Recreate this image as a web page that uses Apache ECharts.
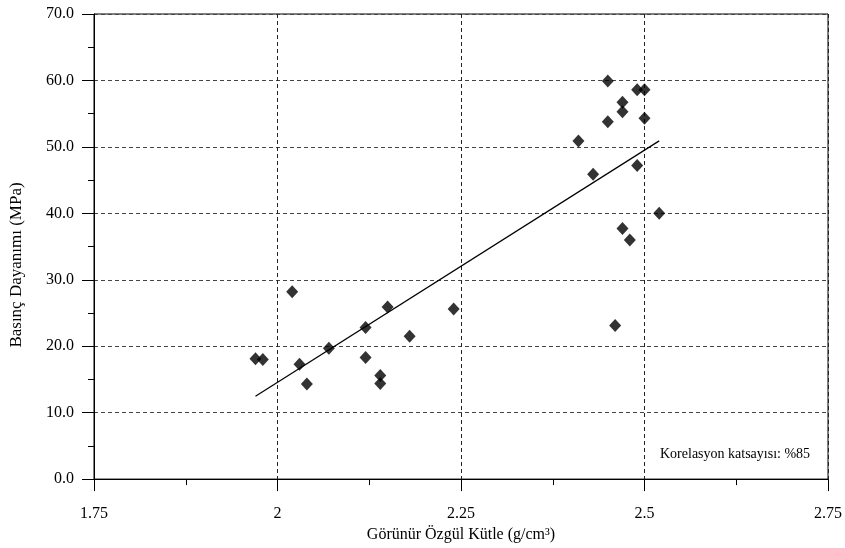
<!DOCTYPE html>
<html>
<head>
<meta charset="utf-8">
<script src="https://cdn.jsdelivr.net/npm/echarts@6/dist/echarts.min.js"></script>
<style>
  html, body { margin: 0; padding: 0; background: #fff; }
  #chart { width: 845px; height: 548px; }
</style>
</head>
<body>
<div id="chart"></div>
<script>
// Specific gravity (g/cm³) of each sample
const density = [
  1.97, 1.98, 2.02, 2.03, 2.04, 2.07, 2.12, 2.12, 2.14, 2.14, 2.15, 2.18, 2.24,
  2.41, 2.43, 2.45, 2.45, 2.46, 2.47, 2.47, 2.47, 2.48, 2.49, 2.49, 2.50, 2.50, 2.52
];
// Compressive strength (MPa) of each sample
const strength = [
  18.1, 18.0, 28.2, 17.3, 14.3, 19.7, 22.8, 18.3, 15.6, 14.4, 25.9, 21.5, 25.6,
  50.9, 45.9, 59.9, 53.8, 23.1, 56.7, 55.3, 37.7, 36.0, 58.6, 47.2, 58.6, 54.3, 40.0
];
const xTicks = [1.75, 2, 2.25, 2.5, 2.75];
const yTicks = [0, 10, 20, 30, 40, 50, 60, 70];
const xTitle = 'Görünür Özgül Kütle (g/cm³)';
const yTitle = 'Basınç Dayanımı (MPa)';
const noteText = 'Korelasyon katsayısı: %85';

// Least-squares trend line over the sample range
const n = density.length;
const mx = density.reduce((a, b) => a + b, 0) / n;
const my = strength.reduce((a, b) => a + b, 0) / n;
let sxy = 0, sxx = 0;
for (let i = 0; i < n; i++) {
  sxy += (density[i] - mx) * (strength[i] - my);
  sxx += (density[i] - mx) * (density[i] - mx);
}
const slope = sxy / sxx;
const intercept = my - slope * mx;
const xMin = Math.min(...density), xMax = Math.max(...density);
const trend = [[xMin, intercept + slope * xMin], [xMax, intercept + slope * xMax]];

const points = density.map((d, i) => [d, strength[i]]);
const font = 'Liberation Serif, Times New Roman, serif';

const chart = echarts.init(document.getElementById('chart'), null, { renderer: 'canvas' });
chart.setOption({
  animation: false,
  backgroundColor: '#fff',
  grid: {
    left: 94, right: 16, top: 14, bottom: 67,
    show: true, borderColor: '#000', borderWidth: 1, backgroundColor: 'transparent'
  },
  xAxis: {
    type: 'value',
    min: xTicks[0], max: xTicks[xTicks.length - 1], interval: 0.25,
    name: xTitle,
    nameLocation: 'middle', nameGap: 46,
    nameTextStyle: { fontFamily: font, fontSize: 16, color: '#000' },
    axisLine: { show: true, onZero: false, lineStyle: { color: '#000', width: 1 } },
    axisTick: { show: true, inside: false, length: 12, lineStyle: { color: '#000' } },
    minorTick: { show: true, splitNumber: 2, length: 6, lineStyle: { color: '#000' } },
    axisLabel: { fontFamily: font, fontSize: 16, color: '#000', margin: 27 },
    splitLine: { show: true, lineStyle: { color: '#222', type: [4, 3], width: 1 } }
  },
  yAxis: {
    type: 'value',
    min: yTicks[0], max: yTicks[yTicks.length - 1], interval: 10,
    axisLine: { show: true, onZero: false, lineStyle: { color: '#000', width: 1 } },
    axisTick: { show: true, inside: false, length: 12, lineStyle: { color: '#000' } },
    minorTick: { show: true, splitNumber: 2, length: 6, lineStyle: { color: '#000' } },
    axisLabel: {
      fontFamily: font, fontSize: 16, color: '#000', margin: 20,
      formatter: v => v.toFixed(1)
    },
    splitLine: { show: true, lineStyle: { color: '#444', type: [4, 3], width: 1 } }
  },
  series: [
    {
      type: 'line',
      data: trend,
      showSymbol: false,
      symbol: 'none',
      lineStyle: { color: '#000', width: 1.2 },
      silent: true,
      z: 2
    },
    {
      type: 'scatter',
      data: points,
      symbol: 'diamond',
      symbolSize: [12, 13],
      itemStyle: { color: '#000' },
      z: 3
    }
  ],
  graphic: [
    {
      // vertical axis title
      type: 'text',
      x: 17,
      y: 265,
      rotation: Math.PI / 2,
      style: {
        text: yTitle, fontFamily: font, fontSize: 17, fill: '#000',
        align: 'center', verticalAlign: 'middle'
      }
    },
    {
      type: 'text',
      left: 660,
      top: 447,
      style: { text: noteText, fontFamily: font, fontSize: 14, fill: '#000' }
    }
  ]
});
</script>
</body>
</html>
